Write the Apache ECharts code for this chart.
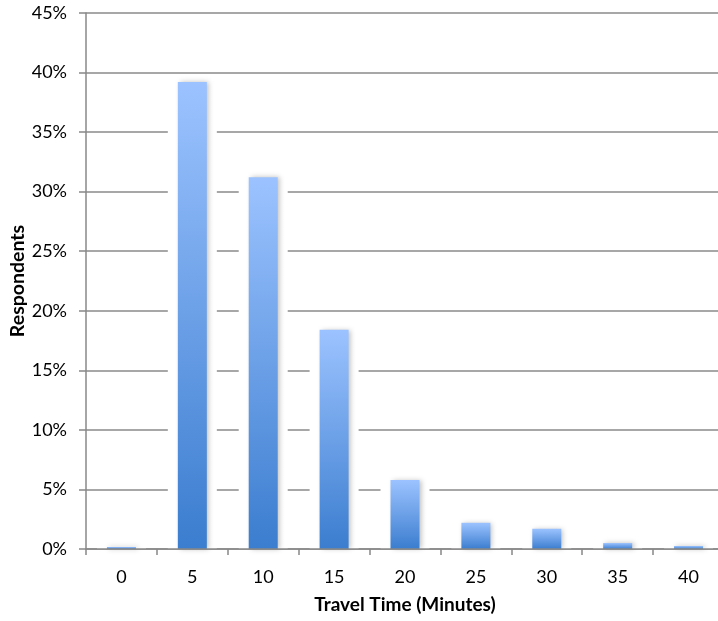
<!DOCTYPE html>
<html>
<head>
<meta charset="utf-8">
<script src="https://cdn.jsdelivr.net/npm/echarts@6/dist/echarts.min.js"></script>
<style>html,body{margin:0;padding:0;background:#fff;}#c{width:718px;height:621px;}</style>
</head>
<body>
<div id="c"></div>
<script>
var categories = ['0', '5', '10', '15', '20', '25', '30', '35', '40'];
var respondents = [0.17, 39.2, 31.2, 18.4, 5.8, 2.2, 1.7, 0.5, 0.25];
var yTicks = [0, 5, 10, 15, 20, 25, 30, 35, 40, 45];

var font = 'Lato, "Open Sans", sans-serif';
var chart = echarts.init(document.getElementById('c'), null, {renderer: 'canvas'});
chart.setOption({
  animation: false,
  grid: {left: 86, right: -6, top: 13, bottom: 72, containLabel: false, outerBoundsMode: 'none'},
  xAxis: [{
    type: 'category',
    data: categories,
    z: 5,
    name: 'Travel Time (Minutes)',
    nameLocation: 'middle',
    nameGap: 46,
    nameMoveOverlap: false,
    nameTextStyle: {fontFamily: font, fontSize: 19, fontWeight: 'bold', color: '#000'},
    axisLine: {lineStyle: {color: '#888', width: 1.5}},
    axisTick: {show: true, alignWithLabel: false, length: 6, lineStyle: {color: '#888', width: 1.5}},
    axisLabel: {fontFamily: font, fontSize: 18, color: '#000', margin: 19},
    splitLine: {show: false}
  }, {
    type: 'category',
    data: categories,
    show: false
  }],
  yAxis: {
    type: 'value',
    min: yTicks[0],
    max: yTicks[yTicks.length - 1],
    interval: 5,
    name: 'Respondents',
    nameLocation: 'middle',
    nameGap: 58,
    nameMoveOverlap: false,
    nameRotate: 90,
    nameTextStyle: {fontFamily: font, fontSize: 19.5, fontWeight: 'bold', color: '#000'},
    axisLine: {show: true, lineStyle: {color: '#888', width: 1.5}},
    axisTick: {show: true, inside: false, length: 7, lineStyle: {color: '#888', width: 1.5}},
    axisLabel: {fontFamily: font, fontSize: 18, color: '#000', margin: 19, formatter: '{value}%'},
    splitLine: {show: true, lineStyle: {color: '#8a8a8a', width: 1.5}}
  },
  series: [{
    type: 'bar',
    xAxisIndex: 1,
    data: respondents,
    barWidth: 49,
    z: 1,
    silent: true,
    itemStyle: {color: '#fff'}
  }, {
    type: 'bar',
    xAxisIndex: 0,
    data: respondents,
    barWidth: 29,
    z: 3,
    itemStyle: {
      color: new echarts.graphic.LinearGradient(0, 0, 0, 1, [
        {offset: 0, color: '#9cc3ff'},
        {offset: 1, color: '#3b7dcf'}
      ]),
      shadowColor: 'rgba(0,0,0,0.25)',
      shadowBlur: 5,
      shadowOffsetX: 2,
      shadowOffsetY: 0
    }
  }]
});
</script>
</body>
</html>
